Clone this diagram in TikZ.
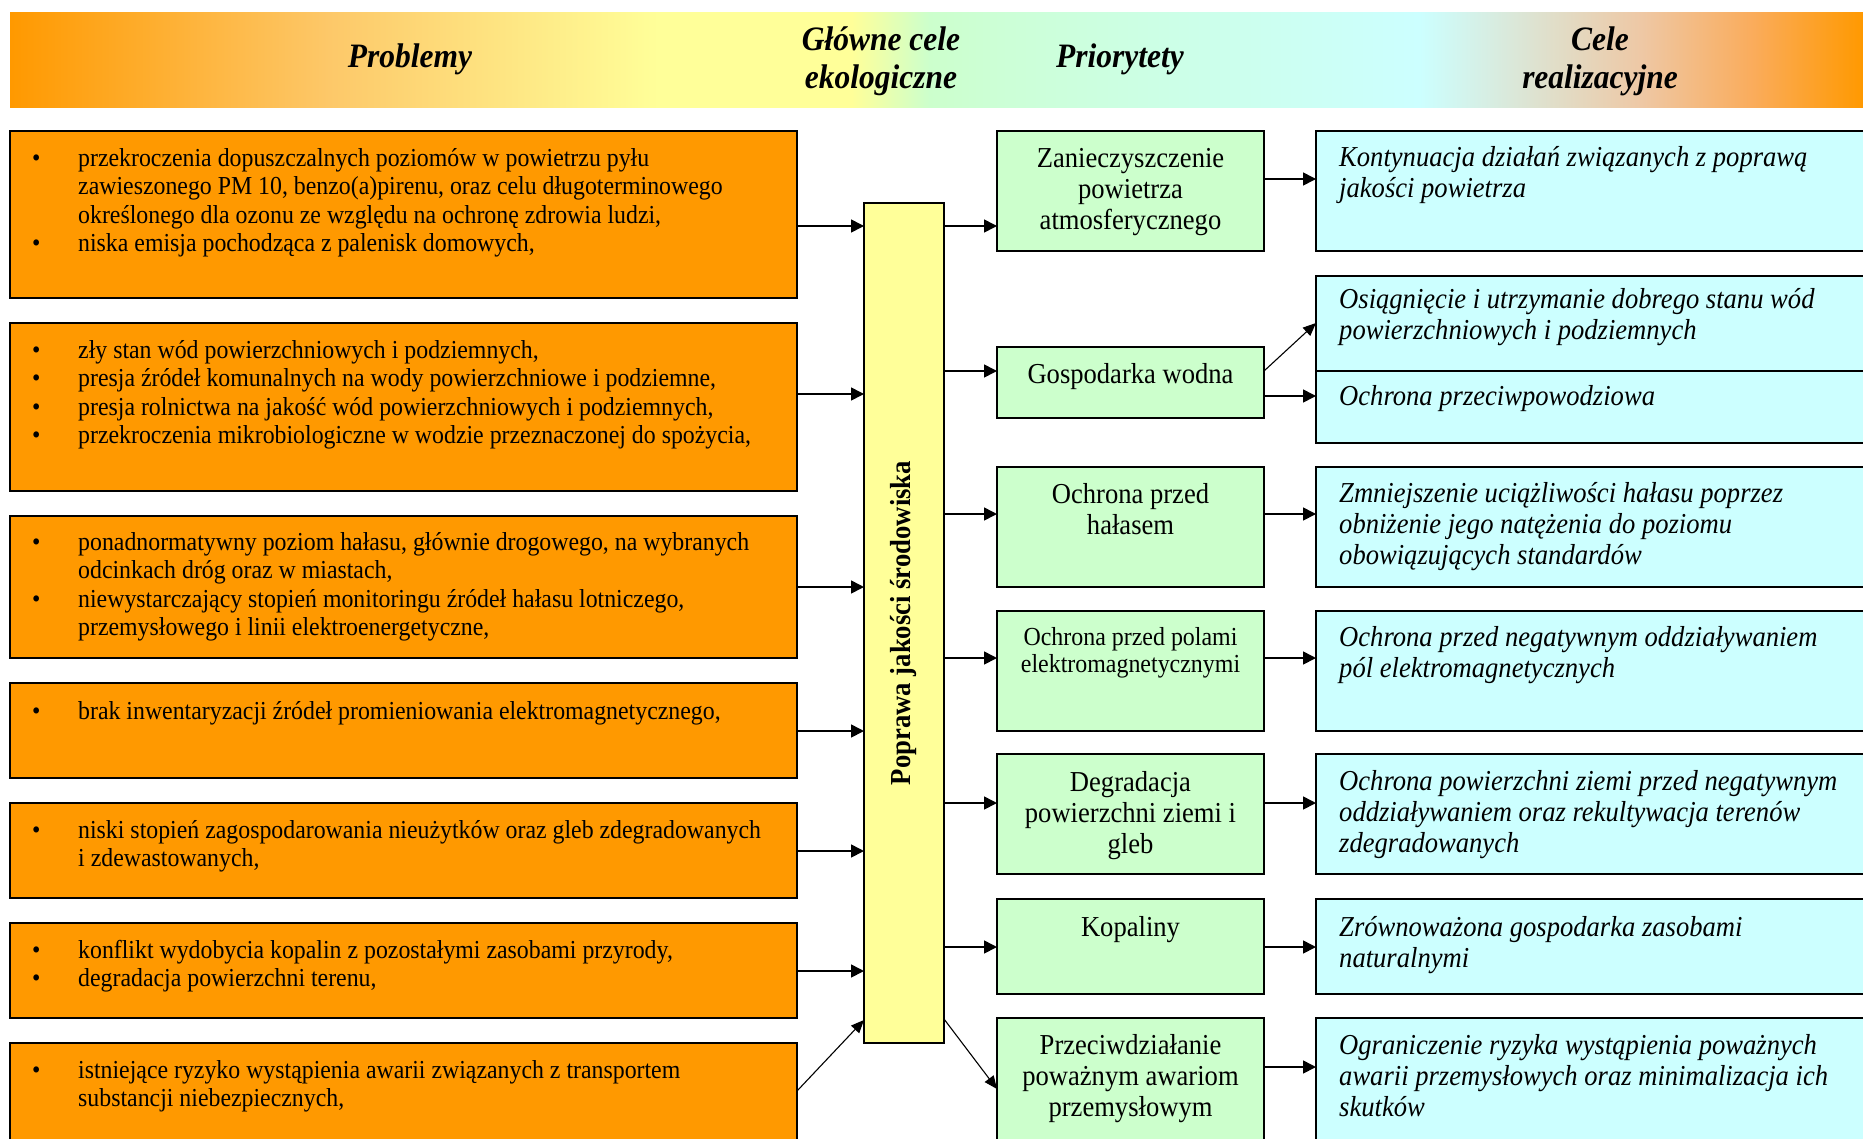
\documentclass[tikz,border=0pt]{standalone}
\usepackage{fontspec, graphicx}
\setmainfont{Liberation Serif}[FakeStretch=0.92]
\usetikzlibrary{positioning, arrows.meta}

\definecolor{boxorange}{RGB}{255,153,0}
\definecolor{boxgreen}{RGB}{204,255,204}
\definecolor{boxcyan}{RGB}{204,255,255}
\definecolor{boxyellow}{RGB}{255,255,153}
\definecolor{hdpeach}{RGB}{253,200,105}
\definecolor{hdmint}{RGB}{204,255,214}
\definecolor{hdbeige}{RGB}{238,200,165}
\definecolor{hdrust}{RGB}{250,172,92}

\pgfdeclarehorizontalshading{headband}{100bp}{color(0bp)=(boxorange); color(25bp)=(boxorange); color(33.6bp)=(hdpeach); color(42.5bp)=(boxyellow); color(47.7bp)=(boxyellow); color(49.8bp)=(boxgreen); color(51.7bp)=(hdmint); color(63bp)=(boxcyan); color(69bp)=(hdbeige); color(72bp)=(hdrust); color(75bp)=(boxorange); color(100bp)=(boxorange)}

\newcommand{\itemdot}{\strut\makebox[46pt][l]{\textbullet}}
\newcommand{\itemgap}{\hspace*{46pt}}

\begin{document}
\begin{tikzpicture}[x=1pt, y=-1pt,
  obox/.style={draw, line width=1.4pt, fill=boxorange, anchor=north west, minimum width=787pt, inner sep=0pt, outer sep=0pt},
  gbox/.style={draw, line width=1.4pt, fill=boxgreen, anchor=north west, minimum width=267pt, inner sep=0pt, outer sep=0pt},
  cbox/.style={draw, line width=1.4pt, fill=boxcyan, anchor=north west, minimum width=560pt, inner sep=0pt, outer sep=0pt},
  ybar/.style={draw, line width=1.4pt, fill=boxyellow, anchor=north west, minimum width=80pt, minimum height=840pt, inner sep=0pt, outer sep=0pt},
  hdband/.style={anchor=north west, minimum width=1853pt, minimum height=95pt, inner sep=0pt, shade, shading=headband},
  htext/.style={inner sep=0pt, align=center, font=\fontsize{34.2}{38}\selectfont\bfseries\itshape},
  otext/.style={inner sep=0pt, align=left, font=\fontsize{25.9}{28.5}\selectfont},
  gtext/.style={inner sep=0pt, align=center, font=\fontsize{28.9}{31}\selectfont},
  ctext/.style={inner sep=0pt, align=left, font=\fontsize{28.9}{31}\selectfont\itshape},
  arr/.style={line width=1.6pt, -{Triangle[length=13pt,width=13pt]}},
  darr/.style={line width=1.1pt, -{Triangle[length=13pt,width=11pt]}}]
\useasboundingbox (0,0) rectangle (1863,1138);
%Header
\node[hdband] (hd) at (10,12) {};
\node[htext] (h1) at (410,59) {Problemy};
\node[htext] (h2) at (881,61) {Główne cele\\ekologiczne};
\node[htext] (h3) at (1120,59) {Priorytety};
\node[htext] (h4) at (1600,61) {Cele\\realizacyjne};
%Boxes
\node[obox, minimum height=167pt] (p1) at (10,131) {};
\node[obox, minimum height=168pt] (p2) at (10,323) {};
\node[obox, minimum height=142pt] (p3) at (10,516) {};
\node[obox, minimum height=95pt] (p4) at (10,683) {};
\node[obox, minimum height=95pt] (p5) at (10,803) {};
\node[obox, minimum height=95pt] (p6) at (10,923) {};
\node[obox, minimum height=110pt] (p7) at (10,1043) {};
\node[ybar] (bar) at (864,203) {\rotatebox{90}{\fontsize{29}{32}\selectfont\bfseries Poprawa jakości środowiska}};
\node[gbox, minimum height=120pt] (g1) at (997,131) {};
\node[gbox, minimum height=71pt] (g2) at (997,347) {};
\node[gbox, minimum height=120pt] (g3) at (997,467) {};
\node[gbox, minimum height=120pt] (g4) at (997,611) {};
\node[gbox, minimum height=120pt] (g5) at (997,754) {};
\node[gbox, minimum height=95pt] (g6) at (997,899) {};
\node[gbox, minimum height=130pt] (g7) at (997,1018) {};
\node[cbox, minimum height=120pt] (c1) at (1316,131) {};
\node[cbox, minimum height=95pt] (c2a) at (1316,276) {};
\node[cbox, minimum height=72pt] (c2b) at (1316,371) {};
\node[cbox, minimum height=120pt] (c3) at (1316,467) {};
\node[cbox, minimum height=120pt] (c4) at (1316,611) {};
\node[cbox, minimum height=120pt] (c5) at (1316,754) {};
\node[cbox, minimum height=95pt] (c6) at (1316,899) {};
\node[cbox, minimum height=130pt] (c7) at (1316,1018) {};
%Text
\node[otext, below right=15pt and 22pt of p1.north west] (p1t) {\itemdot przekroczenia dopuszczalnych poziomów w powietrzu pyłu\\ \itemgap zawieszonego PM 10, benzo(a)pirenu, oraz celu długoterminowego\\ \itemgap określonego dla ozonu ze względu na ochronę zdrowia ludzi,\\ \itemdot niska emisja pochodząca z palenisk domowych,};
\node[otext, below right=15pt and 22pt of p2.north west] (p2t) {\itemdot zły stan wód powierzchniowych i podziemnych,\\ \itemdot presja źródeł komunalnych na wody powierzchniowe i podziemne,\\ \itemdot presja rolnictwa na jakość wód powierzchniowych i podziemnych,\\ \itemdot przekroczenia mikrobiologiczne w wodzie przeznaczonej do spożycia,};
\node[otext, below right=14pt and 22pt of p3.north west] (p3t) {\itemdot ponadnormatywny poziom hałasu, głównie drogowego, na wybranych\\ \itemgap odcinkach dróg oraz w miastach,\\ \itemdot niewystarczający stopień monitoringu źródeł hałasu lotniczego,\\ \itemgap przemysłowego i linii elektroenergetyczne,};
\node[otext, below right=16pt and 22pt of p4.north west] (p4t) {\itemdot brak inwentaryzacji źródeł promieniowania elektromagnetycznego,};
\node[otext, below right=15pt and 22pt of p5.north west] (p5t) {\itemdot niski stopień zagospodarowania nieużytków oraz gleb zdegradowanych\\ \itemgap i zdewastowanych,};
\node[otext, below right=15pt and 22pt of p6.north west] (p6t) {\itemdot konflikt wydobycia kopalin z pozostałymi zasobami przyrody,\\ \itemdot degradacja powierzchni terenu,};
\node[otext, below right=15pt and 22pt of p7.north west] (p7t) {\itemdot istniejące ryzyko wystąpienia awarii związanych z transportem\\ \itemgap substancji niebezpiecznych,};
\node[gtext, below=15pt of g1.north] (g1t) {\strut Zanieczyszczenie\\ powietrza\\ atmosferycznego};
\node[gtext, below=15pt of g2.north] (g2t) {\strut Gospodarka wodna};
\node[gtext, below=15pt of g3.north] (g3t) {\strut Ochrona przed\\ hałasem};
\node[gtext, below=15pt of g4.north, font=\fontsize{26}{27}\selectfont] (g4t) {\strut Ochrona przed polami\\ elektromagnetycznymi};
\node[gtext, below=16pt of g5.north] (g5t) {\strut Degradacja\\ powierzchni ziemi i\\ gleb};
\node[gtext, below=16pt of g6.north] (g6t) {\strut Kopaliny};
\node[gtext, below=15pt of g7.north] (g7t) {\strut Przeciwdziałanie\\ poważnym awariom\\ przemysłowym};
\node[ctext, below right=14pt and 23pt of c1.north west] (c1t) {\strut Kontynuacja działań związanych z poprawą\\ jakości powietrza};
\node[ctext, below right=11pt and 23pt of c2a.north west] (c2at) {\strut Osiągnięcie i utrzymanie dobrego stanu wód\\ powierzchniowych i podziemnych};
\node[ctext, below right=13pt and 23pt of c2b.north west] (c2bt) {\strut Ochrona przeciwpowodziowa};
\node[ctext, below right=14pt and 23pt of c3.north west] (c3t) {\strut Zmniejszenie uciążliwości hałasu poprzez\\ obniżenie jego natężenia do poziomu\\ obowiązujących standardów};
\node[ctext, below right=14pt and 23pt of c4.north west] (c4t) {\strut Ochrona przed negatywnym oddziaływaniem\\ pól elektromagnetycznych};
\node[ctext, below right=15pt and 23pt of c5.north west] (c5t) {\strut Ochrona powierzchni ziemi przed negatywnym\\ oddziaływaniem oraz rekultywacja terenów\\ zdegradowanych};
\node[ctext, below right=16pt and 23pt of c6.north west] (c6t) {\strut Zrównoważona gospodarka zasobami\\ naturalnymi};
\node[ctext, below right=15pt and 23pt of c7.north west] (c7t) {\strut Ograniczenie ryzyka wystąpienia poważnych\\ awarii przemysłowych oraz minimalizacja ich\\ skutków};
%Arrows
\draw[arr] (p1.east |- 0,226) -- (bar.west |- 0,226);
\draw[arr] (p2.east |- 0,394) -- (bar.west |- 0,394);
\draw[arr] (p3.east |- 0,587) -- (bar.west |- 0,587);
\draw[arr] (p4.east |- 0,731) -- (bar.west |- 0,731);
\draw[arr] (p5.east |- 0,851) -- (bar.west |- 0,851);
\draw[arr] (p6.east |- 0,971) -- (bar.west |- 0,971);
\draw[darr] (p7.east |- 0,1091) -- (bar.west |- 0,1020);
\draw[arr] (bar.east |- 0,226) -- (g1.west |- 0,226);
\draw[arr] (bar.east |- 0,371) -- (g2.west |- 0,371);
\draw[arr] (bar.east |- 0,514) -- (g3.west |- 0,514);
\draw[arr] (bar.east |- 0,658) -- (g4.west |- 0,658);
\draw[arr] (bar.east |- 0,803) -- (g5.west |- 0,803);
\draw[arr] (bar.east |- 0,947) -- (g6.west |- 0,947);
\draw[darr] (bar.east |- 0,1019) -- (g7.west |- 0,1089);
\draw[arr] (g1.east |- 0,179) -- (c1.west |- 0,179);
\draw[darr] (g2.east |- 0,371) -- (c2a.west |- 0,323);
\draw[arr] (g2.east |- 0,396) -- (c2b.west |- 0,396);
\draw[arr] (g3.east |- 0,514) -- (c3.west |- 0,514);
\draw[arr] (g4.east |- 0,658) -- (c4.west |- 0,658);
\draw[arr] (g5.east |- 0,803) -- (c5.west |- 0,803);
\draw[arr] (g6.east |- 0,947) -- (c6.west |- 0,947);
\draw[arr] (g7.east |- 0,1067) -- (c7.west |- 0,1067);
\end{tikzpicture}
\end{document}
